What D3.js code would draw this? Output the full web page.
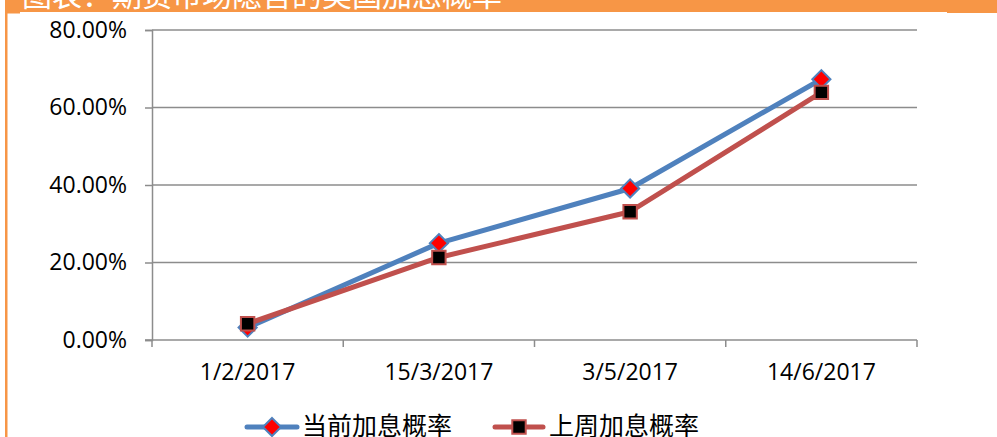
<!DOCTYPE html>
<html lang="zh">
<head>
<meta charset="UTF-8">
<title>加息概率</title>
<script src="https://cdn.jsdelivr.net/npm/d3@7"></script>
<style>
  body { margin: 0; background: #fff; }
  svg { display: block; }
</style>
</head>
<body>
<script>
// data
const dates = ["1/2/2017", "15/3/2017", "3/5/2017", "14/6/2017"];
const current = [0.032, 0.250, 0.391, 0.673];   // 当前加息概率
const lastWeek = [0.042, 0.213, 0.331, 0.639];  // 上周加息概率
const yTicks = [0, 0.2, 0.4, 0.6, 0.8];
const seriesNames = ["当前加息概率", "上周加息概率"];

const W = 997, H = 437;
const svg = d3.select("body").append("svg").attr("width", W).attr("height", H);
const font = "'Open Sans', 'Noto Sans CJK SC', sans-serif";

// orange frame + cropped title
svg.append("rect").attr("x", 5).attr("y", 0).attr("width", W - 5).attr("height", 12).attr("fill", "#F79646");
svg.append("rect").attr("x", 947).attr("y", 0).attr("width", 50).attr("height", 13).attr("fill", "#F79646");
svg.append("rect").attr("x", 5).attr("y", 0).attr("width", 2.5).attr("height", H).attr("fill", "#F79646");
svg.append("rect").attr("x", 5).attr("y", 0).attr("width", 15).attr("height", 13.5).attr("fill", "#F79646");
svg.append("text").attr("x", 22).attr("y", 6).attr("fill", "#fff")
  .style("font", "30px 'Noto Sans CJK SC'")
  .text("图表：期货市场隐含的美国加息概率");

const m = { left: 152, right: 917, top: 30, bottom: 340 };
const x = d3.scaleBand().domain(dates).range([m.left, m.right]);
const y = d3.scaleLinear().domain([0, 0.8]).range([m.bottom, m.top]);
const cx = d => x(d) + x.bandwidth() / 2;

const grey = "#8C8C8C";

// gridlines
svg.append("g").selectAll("line").data(yTicks.slice(1)).join("line")
  .attr("x1", m.left).attr("x2", m.right)
  .attr("y1", d => y(d)).attr("y2", d => y(d))
  .attr("stroke", grey).attr("stroke-width", 1.5);

// y axis
const yAxis = svg.append("g").attr("transform", `translate(${m.left},0)`)
  .call(d3.axisLeft(y).tickValues(yTicks).tickFormat(d3.format(".2%")).tickSize(7).tickPadding(18));
yAxis.select(".domain").attr("stroke", grey).attr("stroke-width", 1.5);
yAxis.selectAll(".tick line").attr("stroke", grey).attr("stroke-width", 1.5);
yAxis.selectAll("text").style("font", `23px ${font}`).attr("fill", "#000");

// x axis
const xAxis = svg.append("g").attr("transform", `translate(0,${m.bottom})`)
  .call(d3.axisBottom(x).tickSize(0).tickPadding(24));
xAxis.select(".domain").attr("d", `M${m.left - 7},0H${m.right}`).attr("stroke", grey).attr("stroke-width", 1.5);
xAxis.selectAll("text").style("font", `23px ${font}`).attr("fill", "#000");
xAxis.selectAll(".bound").data(d3.range(dates.length + 1)).join("line")
  .attr("x1", i => m.left + i * x.step()).attr("x2", i => m.left + i * x.step())
  .attr("y1", 0).attr("y2", 7).attr("stroke", grey).attr("stroke-width", 1.5);

const line = d3.line().x((d, i) => cx(dates[i])).y(d => y(d));
const diamond = d3.symbol().type(d3.symbolDiamond2).size(210);
const square = d3.symbol().type(d3.symbolSquare).size(180);

function drawDiamond(g, px, py) {
  g.append("path").attr("d", diamond()).attr("transform", `translate(${px},${py})`)
    .attr("fill", "#FF0000").attr("stroke", "#4F81BD").attr("stroke-width", 2);
}
function drawSquare(g, px, py) {
  g.append("path").attr("d", square()).attr("transform", `translate(${px},${py})`)
    .attr("fill", "#000").attr("stroke", "#C0504D").attr("stroke-width", 2);
}

// blue series
svg.append("path").datum(current).attr("d", line).attr("fill", "none")
  .attr("stroke", "#4F81BD").attr("stroke-width", 5).attr("stroke-linejoin", "round");
const gb = svg.append("g");
current.forEach((v, i) => drawDiamond(gb, cx(dates[i]), y(v)));

// red series
svg.append("path").datum(lastWeek).attr("d", line).attr("fill", "none")
  .attr("stroke", "#C0504D").attr("stroke-width", 5).attr("stroke-linejoin", "round");
const gr = svg.append("g");
lastWeek.forEach((v, i) => drawSquare(gr, cx(dates[i]), y(v)));

// legend
const leg = svg.append("g");
const ly = 427;
leg.append("line").attr("x1", 247).attr("x2", 297).attr("y1", ly).attr("y2", ly)
  .attr("stroke", "#4F81BD").attr("stroke-width", 5).attr("stroke-linecap", "round");
drawDiamond(leg, 272, ly);
leg.append("text").attr("x", 302).attr("y", 435).style("font", "25px 'Noto Sans CJK SC'").text(seriesNames[0]);
leg.append("line").attr("x1", 495).attr("x2", 543).attr("y1", ly).attr("y2", ly)
  .attr("stroke", "#C0504D").attr("stroke-width", 5).attr("stroke-linecap", "round");
drawSquare(leg, 519, ly);
leg.append("text").attr("x", 549).attr("y", 435).style("font", "25px 'Noto Sans CJK SC'").text(seriesNames[1]);
</script>
</body>
</html>
